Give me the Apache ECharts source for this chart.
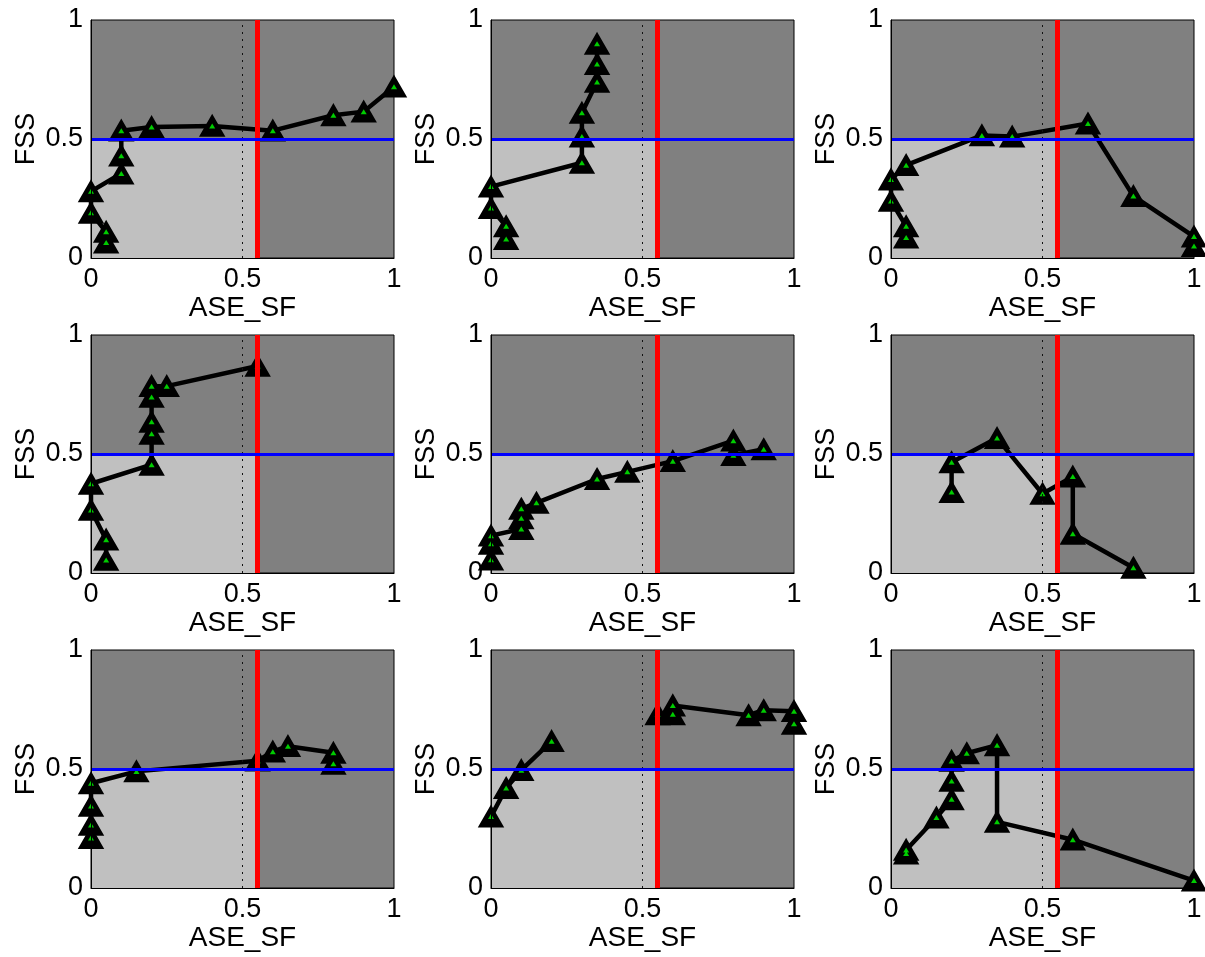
<!DOCTYPE html>
<html>
<head>
<meta charset="utf-8">
<script src="https://cdn.jsdelivr.net/npm/echarts@6/dist/echarts.min.js"></script>
<style>
  html, body { margin: 0; padding: 0; background: #ffffff; }
  #chart { width: 1205px; height: 957px; }
</style>
</head>
<body>
<div id="chart"></div>
<script>
// ---- data: [ASE_SF, FSS] pairs per panel (null = gap in the line) ----
const panel1 = [[0.05,0.065],[0.05,0.11],[0,0.19],[0,0.28],[0.1,0.355],[0.1,0.43],[0.1,0.535],[0.2,0.55],[0.4,0.555],[0.6,0.535],[0.8,0.60],[0.9,0.615],[1,0.72]];
const panel2 = [[0.05,0.08],[0.05,0.133],[0,0.21],[0,0.30],[0.3,0.40],[0.3,0.51],[0.3,0.61],[0.35,0.74],[0.35,0.815],[0.35,0.90]];
const panel3 = [[0.05,0.086],[0.05,0.133],[0,0.24],[0,0.33],[0.05,0.39],[0.3,0.515],[0.4,0.51],[0.65,0.565],[0.8,0.26],[1,0.09],[1,0.05]];
const panel4 = [[0.05,0.055],[0.05,0.14],[0,0.265],[0,0.375],[0.2,0.455],[0.2,0.585],[0.2,0.635],[0.2,0.74],[0.2,0.785],[0.25,0.785],[0.55,0.87]];
const panel5 = [[0,0.056],[0,0.123],[0,0.157],[0.1,0.185],[0.1,0.23],[0.1,0.27],[0.15,0.295],[0.35,0.395],[0.45,0.425],[0.6,0.47],[0.8,0.556],[0.8,0.495],[0.9,0.52]];
const panel6 = [[0.2,0.34],[0.2,0.465],[0.35,0.567],[0.5,0.333],[0.6,0.405],[0.6,0.165],[0.8,0.022]];
const panel7 = [[0,0.21],[0,0.265],[0,0.345],[0,0.44],[0.15,0.49],[0.55,0.535],[0.6,0.573],[0.65,0.596],[0.8,0.568],[0.8,0.522]];
const panel8 = [[0,0.30],[0.05,0.42],[0.1,0.495],[0.2,0.617],null,[0.55,0.73],[0.6,0.73],[0.6,0.767],[0.85,0.726],[0.9,0.747],[1,0.743],[1,0.69]];
const panel9 = [[0.05,0.145],[0.05,0.16],[0.15,0.296],[0.2,0.373],[0.2,0.45],[0.2,0.534],[0.25,0.566],[0.35,0.6],[0.35,0.278],[0.6,0.203],[1,0.031]];

const panels = [panel1, panel2, panel3, panel4, panel5, panel6, panel7, panel8, panel9];

// reference lines / region
const thresholdX = 0.55;   // red vertical line
const thresholdY = 0.5;    // blue horizontal line
const refX = 0.5;          // dotted vertical line
const xTicks = [0, 0.5, 1];
const yTicks = [0, 0.5, 1];
const xName = 'ASE_SF';
const yName = 'FSS';

// ---- layout ----
const colLeft = [91, 491, 891];
const rowTop = [20, 335, 650];
const plotW = 303, plotH = 238;
const FONT = 'Arial, "Liberation Sans", Helvetica, sans-serif';
const FS = 27;

const grids = [], xAxes = [], yAxes = [], series = [];

panels.forEach((pts, i) => {
  const col = i % 3, row = Math.floor(i / 3);
  grids.push({
    left: colLeft[col], top: rowTop[row], width: plotW, height: plotH,
    show: true, backgroundColor: '#808080', borderColor: '#000', borderWidth: 1
  });
  xAxes.push({
    gridIndex: i, type: 'value', min: xTicks[0], max: xTicks[xTicks.length - 1],
    interval: xTicks[1] - xTicks[0], z: 5,
    name: xName, nameLocation: 'middle', nameGap: 34,
    nameTextStyle: { color: '#000', fontFamily: FONT, fontSize: 28 },
    axisLine: { show: true, lineStyle: { color: '#000', width: 1 } },
    axisTick: { show: false }, splitLine: { show: false },
    axisLabel: { color: '#000', fontFamily: FONT, fontSize: FS, margin: 8 }
  });
  yAxes.push({
    gridIndex: i, type: 'value', min: yTicks[0], max: yTicks[yTicks.length - 1],
    interval: yTicks[1] - yTicks[0], z: 5,
    name: yName, nameLocation: 'middle', nameGap: 51,
    nameTextStyle: { color: '#000', fontFamily: FONT, fontSize: FS },
    axisLine: { show: true, lineStyle: { color: '#000', width: 1 } },
    axisTick: { show: false }, splitLine: { show: false },
    axisLabel: { color: '#000', fontFamily: FONT, fontSize: FS, margin: 8 }
  });
  // background region + reference lines
  series.push({
    type: 'line', xAxisIndex: i, yAxisIndex: i, data: [], z: 1, silent: true,
    markArea: {
      silent: true,
      itemStyle: { color: '#c0c0c0' },
      data: [[{ coord: [0, 0] }, { coord: [thresholdX, thresholdY] }]]
    },
    markLine: {
      silent: true, symbol: 'none', label: { show: false },
      data: [
        { xAxis: refX, lineStyle: { color: '#111', width: 1, type: [2, 5] } },
        { xAxis: thresholdX, lineStyle: { color: '#ff0000', width: 5, type: 'solid' } },
        { yAxis: thresholdY, lineStyle: { color: '#0000ff', width: 3, type: 'solid' } }
      ]
    }
  });
  // trajectory with black triangle markers
  series.push({
    type: 'line', xAxisIndex: i, yAxisIndex: i, z: 3, clip: false,
    data: pts.map(p => p === null ? '-' : p),
    connectNulls: false,
    lineStyle: { color: '#000', width: 4.5 },
    symbol: 'triangle', symbolSize: [23, 20],
    itemStyle: { color: '#000', borderColor: '#000', borderWidth: 2 },
    emphasis: { disabled: true }, animation: false
  });
  // green inner markers
  series.push({
    type: 'scatter', xAxisIndex: i, yAxisIndex: i, z: 4, clip: false,
    data: pts.filter(p => p !== null),
    symbol: 'triangle', symbolSize: [6, 5],
    itemStyle: { color: '#00ff00' },
    emphasis: { disabled: true }, animation: false
  });
});

const chart = echarts.init(document.getElementById('chart'), null, { renderer: 'canvas' });
chart.setOption({
  backgroundColor: '#ffffff',
  animation: false,
  textStyle: { fontFamily: FONT },
  grid: grids, xAxis: xAxes, yAxis: yAxes, series: series
});
</script>
</body>
</html>
